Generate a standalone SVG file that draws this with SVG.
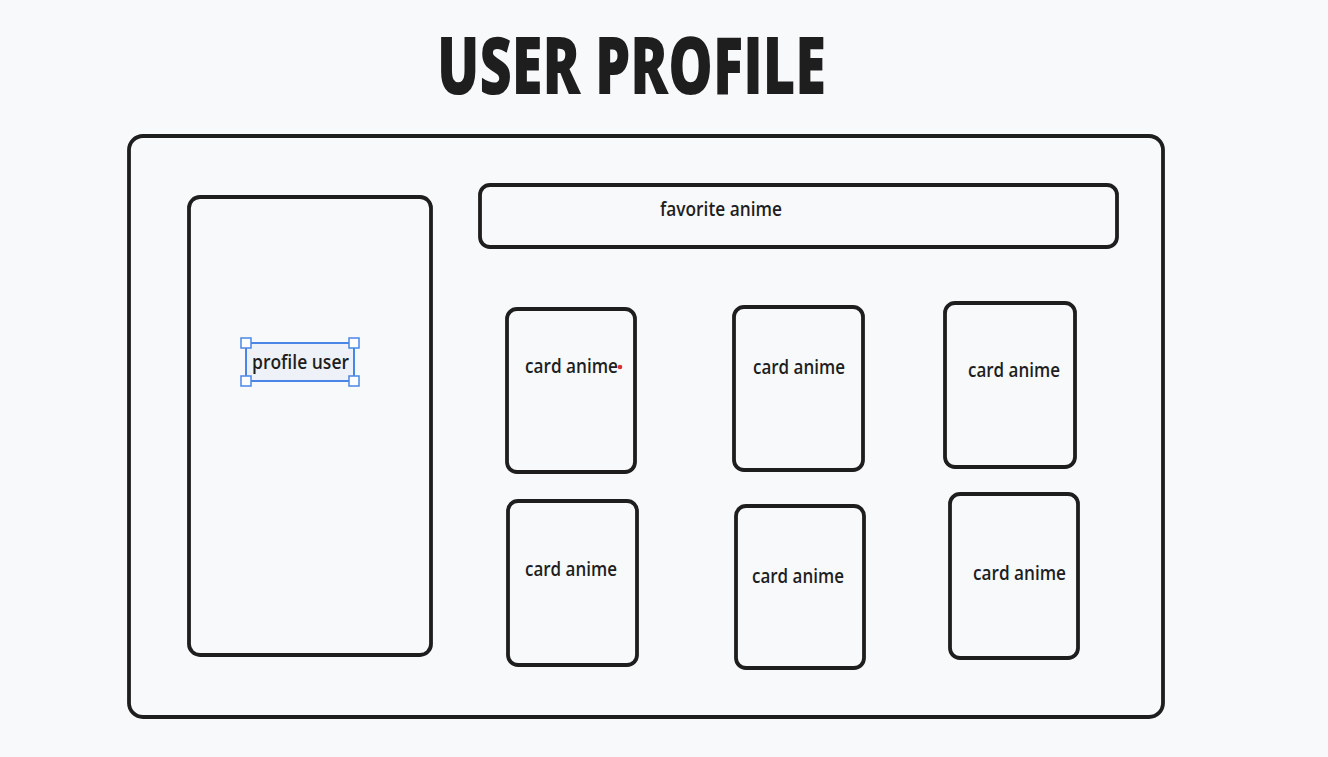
<svg xmlns="http://www.w3.org/2000/svg" width="1328" height="757" viewBox="0 0 1328 757">
  <style>
    .box { fill: none; stroke: #1e1e1e; stroke-width: 3.8; stroke-linejoin: round; }
    .lbl { font-family: "Open Sans", "Liberation Sans", sans-serif; font-size: 19px; fill: #1e1e1e; font-weight: 600; }
    .title { font-family: "Open Sans", "Liberation Sans", sans-serif; font-size: 80px; font-weight: 800; fill: #1e1e1e; }
    .sel { fill: none; stroke: #4a86e8; stroke-width: 2; }
    .handle { fill: #ffffff; stroke: #4a86e8; stroke-width: 1.5; }
  </style>
  <rect width="1328" height="757" fill="#f8f9fb"/>

  <g id="title">
    <text class="title" x="437" y="94" textLength="389" lengthAdjust="spacingAndGlyphs">USER PROFILE</text>
  </g>

  <g id="page-frame">
    <rect class="box" x="129" y="136" width="1034" height="581" rx="14"/>
  </g>

  <g id="profile-panel">
    <rect class="box" x="189" y="197" width="242" height="458" rx="11"/>
  </g>

  <g id="profile-label">
    <rect x="246" y="343" width="108" height="38" fill="#eef2f8"/>
    <text class="lbl" x="252" y="369" textLength="97" lengthAdjust="spacingAndGlyphs">profile user</text>
    <rect class="sel" x="246" y="343" width="108" height="38"/>
    <rect class="handle" x="241" y="338" width="10" height="10"/>
    <rect class="handle" x="349" y="338" width="10" height="10"/>
    <rect class="handle" x="241" y="376" width="10" height="10"/>
    <rect class="handle" x="349" y="376" width="10" height="10"/>
  </g>

  <g id="favorite-bar">
    <rect class="box" x="480" y="185" width="637" height="62" rx="10"/>
    <text class="lbl" x="660" y="216" textLength="122" lengthAdjust="spacingAndGlyphs">favorite anime</text>
  </g>

  <g id="card-1">
    <rect class="box" x="507" y="309" width="128" height="163" rx="10"/>
    <text class="lbl" x="525" y="373" textLength="93" lengthAdjust="spacingAndGlyphs">card anime</text>
    <circle cx="620" cy="367" r="2.3" fill="#e03131"/>
  </g>
  <g id="card-2">
    <rect class="box" x="734" y="307" width="129" height="163" rx="10"/>
    <text class="lbl" x="753" y="374" textLength="92" lengthAdjust="spacingAndGlyphs">card anime</text>
  </g>
  <g id="card-3">
    <rect class="box" x="945" y="303" width="130" height="164" rx="10"/>
    <text class="lbl" x="968" y="377" textLength="92" lengthAdjust="spacingAndGlyphs">card anime</text>
  </g>
  <g id="card-4">
    <rect class="box" x="508" y="501" width="129" height="164" rx="10"/>
    <text class="lbl" x="525" y="576" textLength="92" lengthAdjust="spacingAndGlyphs">card anime</text>
  </g>
  <g id="card-5">
    <rect class="box" x="736" y="506" width="128" height="162" rx="10"/>
    <text class="lbl" x="752" y="583" textLength="92" lengthAdjust="spacingAndGlyphs">card anime</text>
  </g>
  <g id="card-6">
    <rect class="box" x="950" y="494" width="128" height="164" rx="10"/>
    <text class="lbl" x="973" y="580" textLength="93" lengthAdjust="spacingAndGlyphs">card anime</text>
  </g>

  <g id="connectors"></g>
</svg>
